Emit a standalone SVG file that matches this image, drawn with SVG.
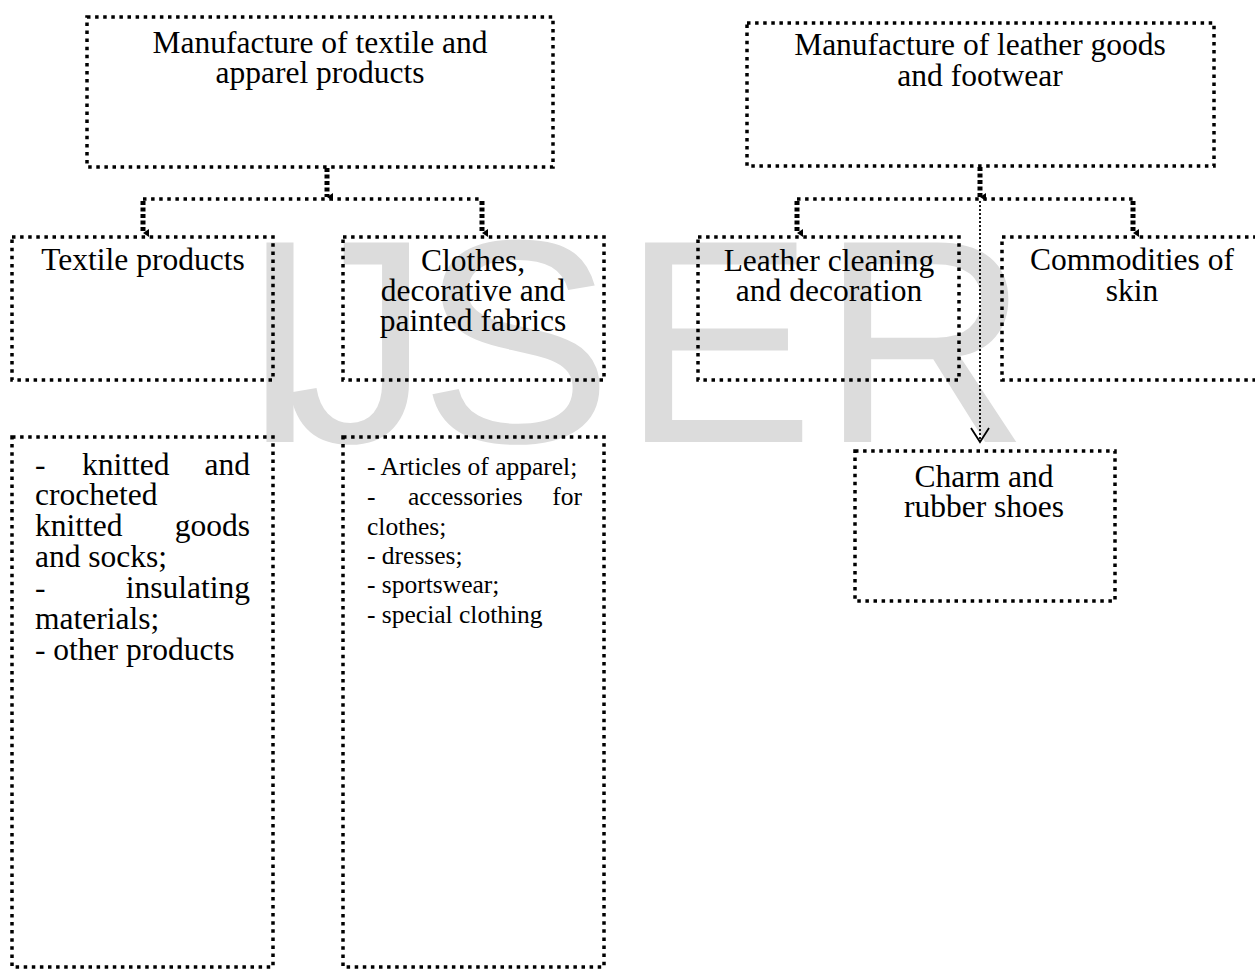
<svg xmlns="http://www.w3.org/2000/svg" width="1255" height="971" viewBox="0 0 1255 971">
<style>
.box{fill:none;stroke:#000;stroke-width:3.5;stroke-dasharray:3.5 4.6}
.hl{fill:none;stroke:#000;stroke-width:3.5;stroke-dasharray:3.5 4.6}
.drop{fill:none;stroke:#000;stroke-width:5;stroke-dasharray:4 2.5}
.thin{fill:none;stroke:#000;stroke-width:1.8;stroke-dasharray:2 2}
.t{font-family:"Liberation Serif","Times New Roman",serif;font-size:31.5px;fill:#000}
.s{font-family:"Liberation Serif","Times New Roman",serif;font-size:25.5px;fill:#000}
.wm{font-family:"Liberation Sans",Arial,sans-serif;font-size:290px;fill:#dcdcdc;text-anchor:middle}
</style>
<defs>
<marker id="solid" markerWidth="8" markerHeight="8" refX="4" refY="6" orient="auto-start-reverse" markerUnits="userSpaceOnUse" viewBox="0 0 8 8">
<path d="M0,0 L8,0 L4,6 Z" fill="#000"/>
</marker>
<marker id="open" markerWidth="24" markerHeight="18" refX="12" refY="16" markerUnits="userSpaceOnUse" viewBox="0 0 24 18">
<path d="M3,2 L12,16 L21,2" fill="none" stroke="#000" stroke-width="1.8"/>
</marker>
</defs>
<rect width="1255" height="971" fill="#fff"/>
<g id="watermark">
<text class="wm" x="280" y="442">I</text>
<text class="wm" x="358" y="442">J</text>
<text class="wm" x="516" y="442">S</text>
<text class="wm" x="718" y="442">E</text>
<text class="wm" x="925" y="442">R</text>
</g>
<g id="connectors">
<path class="drop" d="M327,168 V197" marker-end="url(#solid)"/>
<path class="hl" d="M143,199 H482"/>
<path class="drop" d="M143,201 V233" marker-end="url(#solid)"/>
<path class="drop" d="M482,201 V233" marker-end="url(#solid)"/>
<path class="drop" d="M980,167 V197" marker-end="url(#solid)"/>
<path class="hl" d="M797,199 H1133"/>
<path class="drop" d="M797,201 V233" marker-end="url(#solid)"/>
<path class="drop" d="M1133,201 V233" marker-end="url(#solid)"/>
<path class="thin" d="M980,201 V442" marker-end="url(#open)"/>
</g>
<g id="node-textile-apparel">
<rect class="box" x="87" y="17" width="466" height="150"/>
<text class="t" x="320" y="53" text-anchor="middle">Manufacture of textile and</text>
<text class="t" x="320" y="83" text-anchor="middle">apparel products</text>
</g>
<g id="node-leather-footwear">
<rect class="box" x="747" y="23" width="467" height="143"/>
<text class="t" x="980" y="55" text-anchor="middle">Manufacture of leather goods</text>
<text class="t" x="980" y="86" text-anchor="middle">and footwear</text>
</g>
<g id="node-textile-products">
<rect class="box" x="12" y="237" width="261" height="143"/>
<text class="t" x="143" y="270" text-anchor="middle">Textile products</text>
</g>
<g id="node-clothes">
<rect class="box" x="343" y="237" width="261" height="143"/>
<text class="t" x="473" y="271" text-anchor="middle">Clothes,</text>
<text class="t" x="473" y="301" text-anchor="middle">decorative and</text>
<text class="t" x="473" y="331" text-anchor="middle">painted fabrics</text>
</g>
<g id="node-leather-cleaning">
<rect class="box" x="698" y="237" width="261" height="143"/>
<text class="t" x="829" y="271" text-anchor="middle">Leather cleaning</text>
<text class="t" x="829" y="301" text-anchor="middle">and decoration</text>
</g>
<g id="node-commodities">
<rect class="box" x="1002" y="237" width="262" height="143"/>
<text class="t" x="1132" y="270" text-anchor="middle">Commodities of</text>
<text class="t" x="1132" y="301" text-anchor="middle">skin</text>
</g>
<g id="node-charm">
<rect class="box" x="855" y="451" width="260" height="150"/>
<text class="t" x="984" y="487" text-anchor="middle">Charm and</text>
<text class="t" x="984" y="517" text-anchor="middle">rubber shoes</text>
</g>
<g id="node-textile-list">
<rect class="box" x="12" y="437" width="261" height="530"/>
<text class="t" x="35" y="475">-</text>
<text class="t" x="82" y="475">knitted</text>
<text class="t" x="250" y="475" text-anchor="end">and</text>
<text class="t" x="35" y="505">crocheted</text>
<text class="t" x="35" y="536">knitted</text>
<text class="t" x="250" y="536" text-anchor="end">goods</text>
<text class="t" x="35" y="567">and socks;</text>
<text class="t" x="35" y="598">-</text>
<text class="t" x="250" y="598" text-anchor="end">insulating</text>
<text class="t" x="35" y="629">materials;</text>
<text class="t" x="35" y="660">- other products</text>
</g>
<g id="node-clothes-list">
<rect class="box" x="343" y="437" width="261" height="530"/>
<text class="s" x="367" y="475">- Articles of apparel;</text>
<text class="s" x="367" y="505">-</text>
<text class="s" x="408" y="505">accessories</text>
<text class="s" x="582" y="505" text-anchor="end">for</text>
<text class="s" x="367" y="535">clothes;</text>
<text class="s" x="367" y="564">- dresses;</text>
<text class="s" x="367" y="593">- sportswear;</text>
<text class="s" x="367" y="623">- special clothing</text>
</g>
</svg>
